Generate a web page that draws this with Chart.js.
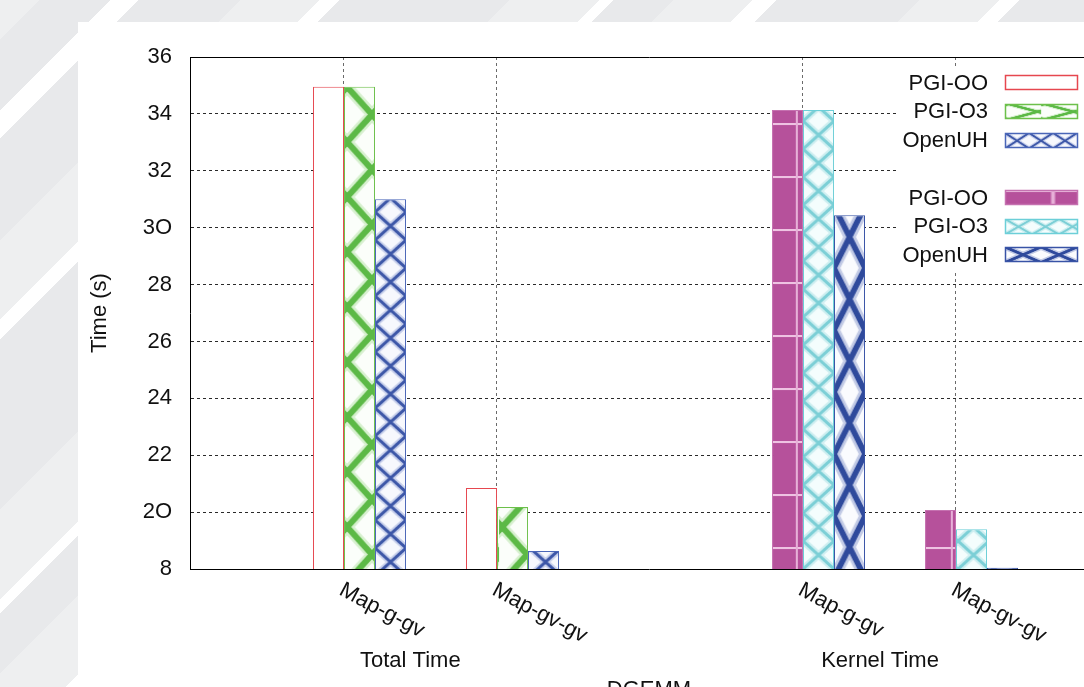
<!DOCTYPE html>
<html>
<head>
<meta charset="utf-8">
<script src="https://cdn.jsdelivr.net/npm/chart.js@4.4.1/dist/chart.umd.min.js"></script>
<style>
  html, body { margin: 0; padding: 0; width: 1084px; height: 687px; overflow: hidden; }
  body {
    position: relative;
    background: linear-gradient(135deg,
      #eeeff0 0px, #eeeff0 28px, #e8e9eb 28px, #e8e9eb 78px, #ffffff 78px, #ffffff 98px,
      #e8e9eb 98px, #e8e9eb 170px, #eeeff0 170px, #eeeff0 226px, #ffffff 226px, #ffffff 240px,
      #e8e9eb 240px, #e8e9eb 360px, #eeeff0 360px, #eeeff0 424px, #ffffff 424px, #ffffff 434px,
      #e8e9eb 434px, #e8e9eb 476px, #eeeff0 476px, #eeeff0 532px, #ffffff 532px, #ffffff 549px,
      #e8e9eb 549px, #e8e9eb 650px, #eeeff0 650px, #eeeff0 707px, #ffffff 707px, #ffffff 721px,
      #e8e9eb 721px, #e8e9eb 1300px);
  }
  #panel { position: absolute; left: 78px; top: 22px; width: 1100px; height: 700px; background: #ffffff; }
  #wrap { position: absolute; left: 0; top: 0; width: 1200px; height: 687px; }
</style>
</head>
<body>
<div id="panel"></div>
<div id="wrap"><canvas id="chart" width="1200" height="687"></canvas></div>
<script>
// ---------------- data ----------------
const categories   = ['Map-g-gv', 'Map-gv-gv', '', 'Map-g-gv', 'Map-gv-gv'];
const groupLabels  = ['Total Time', 'Kernel Time'];
const seriesLabels = ['PGI-OO', 'PGI-O3', 'OpenUH'];
const totalCats    = [0, 1];
const kernelCats   = [3, 4];
const totalPgiOO   = [34.95, 20.85];
const totalPgiO3   = [34.95, 20.18];
const totalOpenUH  = [31.00, 18.63];
const kernelPgiOO  = [34.14, 20.07];
const kernelPgiO3  = [34.14, 19.40];
const kernelOpenUH = [30.44, 18.04];
const yTickLabels  = ['8', '2O', '22', '24', '26', '28', '3O', '32', '34', '36'];
const yAxisTitle   = 'Time (s)';
const xAxisTitle   = 'DGEMM';

// ---------------- layout / style (not data) ----------------
const Y_MIN = 18, Y_MAX = 36, Y_STEP = 2;
const groupLabelAt = [1.44, 4.51];
const FONT = '"Liberation Sans", Arial, Helvetica, sans-serif';
const LABEL_ROT = 28;
const BAR_SHIFT = 0.108;

function tile(w, h, bg, draw) {
  const c = document.createElement('canvas');
  c.width = w; c.height = h;
  const g = c.getContext('2d');
  g.fillStyle = bg; g.fillRect(0, 0, w, h);
  draw(g, w, h);
  return document.createElement('canvas').getContext('2d').createPattern(c, 'repeat');
}
function strokeSets(g, sets, path) {
  for (const [lw, col] of sets) {
    g.strokeStyle = col; g.lineWidth = lw; g.beginPath(); path(); g.stroke();
  }
}
// two families of diagonals crossing just inside the left and right edges
function latticeEdge(g, w, h, sets, inset) {
  const x0 = inset, x1 = w - inset, s = (h / 2) / (x1 - x0);
  strokeSets(g, sets, () => {
    for (let k = -2; k <= 3; k++) {
      const y = k * h;
      g.moveTo(-10, y - s * (x0 + 10)); g.lineTo(w + 10, y + s * (w + 10 - x0));
      g.moveTo(-10, y + s * (x0 + 10)); g.lineTo(w + 10, y - s * (w + 10 - x0));
    }
  });
}
// X with crossing at tile centre
function latticeX(g, w, h, sets) {
  strokeSets(g, sets, () => {
    for (let k = -1; k <= 1; k++) {
      g.moveTo(0, k * h); g.lineTo(w, k * h + h);
      g.moveTo(0, k * h + h); g.lineTo(w, k * h);
    }
  });
}

const styles = [
  { bg: '#ffffff', border: '#e6474f' },
  { w: 30, h: 55, phase: 42, lsx: 1.2, lsy: 0.28,
    pat: tile(30, 55, '#fbfefa', (g, w, h) => {
      latticeEdge(g, w, h, [[11, '#d6f0ce'], [6, '#5cb946']], 3);
    }),
    border: '#6cc04a' },
  { w: 30, h: 28, phase: 21, lsx: 0.8, lsy: 0.55,
    pat: tile(30, 28, '#f7f8fd', (g, w, h) => latticeX(g, w, h, [[6.5, '#c9d1ec'], [3, '#3d57a8']])),
    border: '#4a66b8' },
  { w: 30, h: 53, phase: 22, lsx: 2.0, lsy: 1,
    pat: tile(30, 53, '#b6519b', (g, w, h) => {
      g.fillStyle = '#eec3e2'; g.fillRect(0, 0, w, 2);
      g.fillStyle = '#e7b0d8'; g.fillRect(23, 0, 2, h);
    }),
    border: '#c571b0' },
  { w: 30, h: 28, phase: 0, lsx: 0.9, lsy: 0.55,
    pat: tile(30, 28, '#f4fdfd', (g, w, h) => latticeX(g, w, h, [[7, '#cfeff1'], [3, '#7ccfd6']])),
    border: '#6ccfd8' },
  { w: 30, h: 62, phase: 53, lsx: 1.2, lsy: 0.25,
    pat: tile(30, 62, '#fafbfe', (g, w, h) => latticeX(g, w, h, [[11, '#c3cbe6'], [5.5, '#2f4a9c']])),
    border: '#3853a6' }
];

function pts(cats, vals) { return vals.map((v, i) => ({ x: cats[i] + 1, y: v })); }
const seriesData = [
  pts(totalCats, totalPgiOO), pts(totalCats, totalPgiO3), pts(totalCats, totalOpenUH),
  pts(kernelCats, kernelPgiOO), pts(kernelCats, kernelPgiO3), pts(kernelCats, kernelOpenUH)
];
const datasets = seriesData.map((d, i) => ({
  label: seriesLabels[i % 3],
  data: d,
  xAxisID: 'x', yAxisID: 'y',
  backgroundColor: styles[i].pat || styles[i].bg,
  borderColor: styles[i].border,
  borderWidth: 1
}));

// ---------------- plugins ----------------
const patternAlign = {
  id: 'patternAlign',
  beforeDatasetsDraw(chart) {
    const area = chart.chartArea;
    chart.data.datasets.forEach((ds, i) => {
      const st = styles[i];
      if (!st.pat) return;
      const el = chart.getDatasetMeta(i).data[0];
      const left = el.x - el.width / 2;
      st.pat.setTransform(new DOMMatrix().translate(left, area.bottom - st.phase).scale(el.width / st.w, 1));
    });
  }
};

const keyPlugin = {
  id: 'keyPlugin',
  afterDatasetsDraw(chart) {
    const { ctx, chartArea: a } = chart;
    const boxR = a.right - 30, boxW = 73, boxH = 15;
    const row0 = a.top + 25.7, step = 28.7;
    ctx.save();
    ctx.fillStyle = '#ffffff';
    ctx.fillRect(boxR - 180, a.top + 10, a.right - (boxR - 180) - 1, 206);
    ctx.font = '22px ' + FONT;
    ctx.textAlign = 'right';
    ctx.textBaseline = 'middle';
    chart.data.datasets.forEach((ds, i) => {
      const row = i < 3 ? i : i + 1;
      const cy = row0 + row * step;
      ctx.fillStyle = '#111';
      ctx.fillText(ds.label, boxR - boxW - 17, cy + 1);
      const x0 = boxR - boxW, y0 = Math.round(cy - boxH / 2);
      const st = styles[i];
      if (st.pat) {
        st.pat.setTransform(new DOMMatrix().translate(x0, y0).scale(st.lsx, st.lsy));
        ctx.fillStyle = st.pat;
      } else {
        ctx.fillStyle = st.bg;
      }
      ctx.fillRect(x0, y0, boxW, boxH);
      ctx.strokeStyle = st.border;
      ctx.lineWidth = 1.5;
      ctx.strokeRect(x0 + 0.5, y0 + 0.5, boxW - 1, boxH - 1);
    });
    ctx.restore();
  }
};

const xTextPlugin = {
  id: 'xTextPlugin',
  afterDraw(chart) {
    const { ctx, chartArea: a } = chart;
    const xs = chart.scales.xt;
    ctx.save();
    ctx.fillStyle = '#111';
    ctx.font = '22px ' + FONT;
    categories.forEach((c, i) => {
      if (!c) return;
      const px = xs.getPixelForValue(i + 1);
      ctx.save();
      ctx.translate(px + 3, a.bottom + 10);
      ctx.rotate(LABEL_ROT * Math.PI / 180);
      ctx.textAlign = 'left';
      ctx.textBaseline = 'top';
      ctx.fillText(c, 0, 0);
      ctx.restore();
    });
    ctx.textAlign = 'center';
    ctx.textBaseline = 'middle';
    groupLabels.forEach((g, i) => {
      ctx.fillText(g, xs.getPixelForValue(groupLabelAt[i]), a.bottom + 92);
    });
    ctx.textBaseline = 'alphabetic';
    ctx.fillText(xAxisTitle, xs.getPixelForValue(3), a.bottom + 127);
    ctx.restore();
  }
};

Chart.defaults.font.family = FONT;
Chart.defaults.font.size = 22;
Chart.defaults.color = '#111';

new Chart(document.getElementById('chart'), {
  type: 'bar',
  data: { datasets },
  options: {
    responsive: false,
    animation: false,
    devicePixelRatio: 1,
    layout: { padding: { left: 78, right: 92, top: 57, bottom: 118 } },
    datasets: { bar: { categoryPercentage: 0.6078, barPercentage: 1, skipNull: true, grouped: true } },
    plugins: { legend: { display: false }, tooltip: { enabled: false } },
    scales: {
      x: { type: 'linear', display: false, offset: false, min: -BAR_SHIFT, max: 6 - BAR_SHIFT,
           ticks: { stepSize: 1 }, grid: { offset: false } },
      xt: {
        type: 'linear', position: 'bottom', min: 0, max: 6, offset: false,
        ticks: { display: false, stepSize: 1 },
        grid: {
          offset: false, drawTicks: false, lineWidth: 1,
          color: (c) => (c.tick && categories[c.tick.value - 1]) ? '#6a6a6a' : 'rgba(0,0,0,0)'
        },
        border: { display: true, color: '#000', width: 1, dash: [3, 3] }
      },
      xtop: {
        type: 'linear', position: 'top', min: 0, max: 6, offset: false,
        ticks: { display: false }, grid: { display: false, drawTicks: false, offset: false },
        border: { display: true, color: '#000', width: 1 }
      },
      y: {
        type: 'linear', position: 'left', min: Y_MIN, max: Y_MAX, beginAtZero: false,
        afterFit: (s) => { s.width = 112; },
        ticks: {
          stepSize: Y_STEP, padding: 18, color: '#111', font: { size: 22 },
          callback: (v) => yTickLabels[Math.round((v - Y_MIN) / Y_STEP)]
        },
        grid: {
          drawTicks: false, lineWidth: 1,
          color: (c) => (c.tick && c.tick.value > Y_MIN && c.tick.value < Y_MAX) ? '#2a2a2a' : 'rgba(0,0,0,0)'
        },
        border: { display: true, color: '#000', width: 1, dash: [3, 3] },
        title: { display: true, text: yAxisTitle, color: '#111', font: { size: 22 }, padding: { top: 9, bottom: 0 } }
      }
    }
  },
  plugins: [patternAlign, keyPlugin, xTextPlugin]
});
</script>
</body>
</html>
